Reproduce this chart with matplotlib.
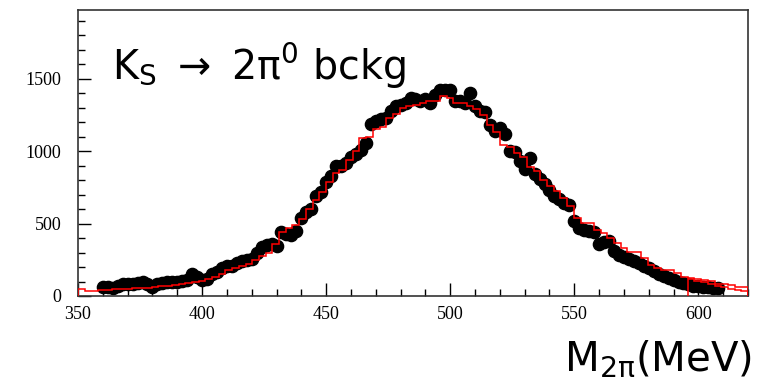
import numpy as np
import matplotlib
matplotlib.use("Agg")
import matplotlib.pyplot as plt
from matplotlib.ticker import MultipleLocator

# ---- data ----
mass_data = list(range(360, 610, 2))
counts_data = [
    62, 60, 58, 70, 85, 80, 85, 88, 95, 80,
    65, 85, 90, 95, 100, 100, 102, 110, 150, 130,
    108, 120, 150, 165, 190, 205, 210, 225, 245, 250,
    255, 300, 335, 350, 360, 345, 445, 430, 420, 450,
    540, 580, 600, 690, 720, 790, 830, 900, 900, 920,
    960, 980, 1010, 1060, 1190, 1210, 1220, 1230, 1280, 1310,
    1320, 1330, 1370, 1360, 1350, 1360, 1335, 1390, 1420, 1425,
    1420, 1345, 1350, 1330, 1400, 1310, 1280, 1270, 1180, 1140,
    1160, 1120, 1000, 995, 930, 880, 950, 840, 810, 775,
    730, 690, 670, 640, 625, 520, 470, 455, 450, 445,
    360, 370, 380, 310, 285, 270, 255, 240, 225, 205,
    190, 172, 155, 140, 125, 112, 100, 90, 80, 72,
    68, 65, 60, 55, 52,
]

hist_lo, hist_hi, hist_nbins = 350, 620, 100
mc_counts = [
    45, 35, 35, 40, 42, 45, 48, 50, 52, 55,
    58, 62, 66, 72, 78, 82, 88, 95, 105, 118,
    132, 150, 178, 190, 210, 222, 250, 275, 300, 360,
    440, 470, 490, 530, 600, 660, 720, 790, 850, 870,
    940, 1000, 1090, 1100, 1150, 1170, 1230, 1260, 1300, 1310,
    1320, 1330, 1350, 1350, 1380, 1370, 1330, 1330, 1310, 1290,
    1250, 1180, 1130, 1040, 1030, 990, 960, 890, 860, 800,
    760, 725, 675, 620, 540, 505, 505, 456, 433, 399,
    364, 330, 306, 306, 261, 214, 191, 180, 180, 157,
    134, 122, 115, 110, 103, 83, 83, 76, 65, 65,
]
# second (lower) histogram in the tail, last bins
mc2_first_bin = 91
mc2_counts = [115, 105, 95, 85, 72, 60, 50, 42, 32]

x_ticks = [350, 400, 450, 500, 550, 600]
y_ticks = [0, 500, 1000, 1500]

# ---- figure ----
fig = plt.figure(figsize=(7.67, 3.84), dpi=100)
ax = fig.add_axes([78 / 767, 1 - 296 / 384, (748 - 78) / 767, (296 - 10) / 384])

edges = np.linspace(hist_lo, hist_hi, hist_nbins + 1)
ax.plot(mass_data, counts_data, 'o', color='black', ms=8.8, mec='black', zorder=2)
ax.stairs(mc_counts, edges, color='red', lw=1.1, zorder=3)
ax.stairs(mc2_counts, edges[mc2_first_bin:mc2_first_bin + len(mc2_counts) + 1],
          color='red', lw=1.1, zorder=3)

ax.set_xlim(hist_lo, hist_hi)
ax.set_ylim(0, 1975)
ax.set_xticks(x_ticks)
ax.set_yticks(y_ticks)
ax.xaxis.set_minor_locator(MultipleLocator(10))
ax.yaxis.set_minor_locator(MultipleLocator(100))
ax.tick_params(which='both', direction='in', top=False, right=False,
               color='black', width=1.0)
ax.tick_params(which='major', length=9.5)
ax.tick_params(which='minor', length=5)
ax.tick_params(axis='x', which='major', pad=7)
ax.tick_params(axis='y', which='major', pad=12)
for lab in ax.get_xticklabels() + ax.get_yticklabels():
    lab.set_fontfamily('Liberation Serif')
    lab.set_fontsize(13)
for sp in ax.spines.values():
    sp.set_linewidth(1.2)
    sp.set_color('#333333')

ax.text(112 / 767, 1 - 80 / 384, r"$\mathregular{K_S\ \rightarrow\ 2\pi^0\ bckg}$",
        transform=fig.transFigure, fontsize=28.5, family='DejaVu Sans',
        ha='left', va='baseline')
fig.text(752 / 767, 1 - 370 / 384, r"$\mathregular{M_{2\pi}(MeV)}$",
         fontsize=29, family='DejaVu Sans', ha='right', va='baseline')

fig.savefig("out.png", dpi=100)
